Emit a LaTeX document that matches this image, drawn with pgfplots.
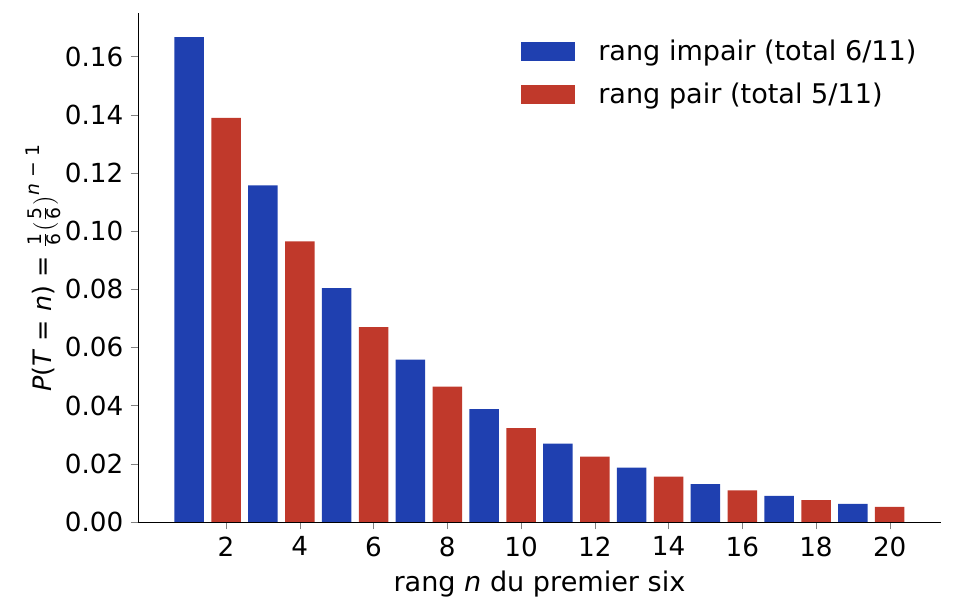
\documentclass[border=0pt]{standalone}
\usepackage{pgfplots}
\pgfplotsset{compat=1.18}
\usepackage{fontspec}
\setmainfont{DejaVu Sans}
\definecolor{impair}{RGB}{31,64,176}
\definecolor{pair}{RGB}{192,57,43}
\newcommand{\sm}[1]{\mbox{\fontsize{9}{10}\selectfont #1}}
\newcommand{\lbl}{\fontsize{13}{15}\selectfont}
\newcommand{\tkl}{\fontsize{12.6}{15}\selectfont}
\begin{document}
\begin{tikzpicture}
\path[use as bounding box] (-66.2pt,-44.6pt) rectangle (392.6pt,250.5pt);
\begin{axis}[
    scale only axis,
    width=385.4pt,
    height=244.3pt,
    xmin=-0.39, xmax=21.39,
    ymin=0, ymax=0.175,
    axis x line*=bottom,
    axis y line*=left,
    tick align=outside,
    major tick length=3.5pt,
    xtick={2,4,...,20},
    ytick={0,0.02,...,0.161},
    /pgf/number format/assume math mode=true,
    yticklabel style={/pgf/number format/fixed,/pgf/number format/fixed zerofill,/pgf/number format/precision=2},
    scaled y ticks=false,
    tick label style={font=\tkl},
    label style={font=\lbl},
    xlabel={rang \textit{n} du premier six},
    ylabel={\textit{P}(\textit{T} = \textit{n}) = $\frac{\sm{1}}{\sm{6}}\bigl(\frac{\sm{5}}{\sm{6}}\bigr)^{\sm{\itshape n\upshape\ − 1}}$},
    ylabel style={yshift=-5pt, font=\fontsize{12.2}{14}\selectfont},
    legend cell align=left,
    legend style={draw=none, fill=none, font=\lbl, at={(0.983,0.965)}, anchor=north east, row sep=5.5pt,
        /tikz/every odd column/.style={column sep=9pt}},
    legend image code/.code={\fill[#1] (0,-4.5pt) rectangle (26pt,4.5pt);},
]
\addplot[ybar, bar width=0.8, bar shift=0pt, draw=none, fill=impair] coordinates {
    (1,0.16667) (3,0.11574) (5,0.08038) (7,0.05582) (9,0.03876)
    (11,0.02692) (13,0.01869) (15,0.01298) (17,0.00901) (19,0.00626)
};
\addlegendentry{rang impair (total 6/11)}
\addplot[ybar, bar width=0.8, bar shift=0pt, draw=none, fill=pair] coordinates {
    (2,0.13889) (4,0.09645) (6,0.06698) (8,0.04651) (10,0.03230)
    (12,0.02243) (14,0.01558) (16,0.01082) (18,0.00751) (20,0.00522)
};
\addlegendentry{rang pair (total 5/11)}
\end{axis}
\end{tikzpicture}
\end{document}
